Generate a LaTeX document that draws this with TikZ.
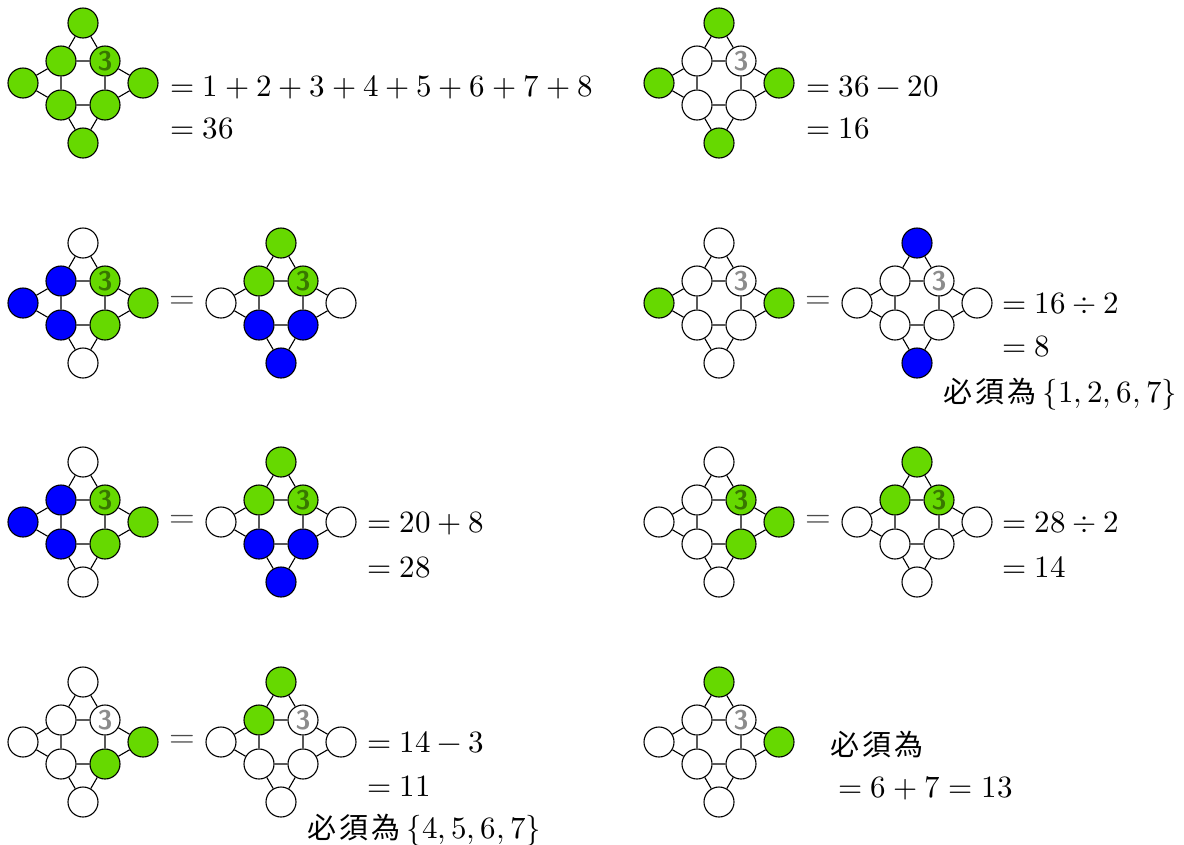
\documentclass[tikz,border=0pt]{standalone}
\usepackage{fontspec}
\usepackage{unicode-math}
\setmathfont{Latin Modern Math}
\newfontfamily\cjk{Noto Sans CJK TC}
\definecolor{vg}{RGB}{102,217,0}
\definecolor{vb}{RGB}{0,0,255}
\definecolor{vw}{RGB}{255,255,255}
\tikzset{
  v/.style={circle,draw=black,line width=1.1pt,minimum size=30pt,inner sep=0pt},
  three/.style={text=black,text opacity=0.45,font=\fontsize{27}{27}\selectfont\sffamily\bfseries},
  e/.style={line width=1.1pt,black},
  lbl/.style={font=\fontsize{31}{37}\selectfont,anchor=base west,inner sep=0pt},
  cjklbl/.style={font=\fontsize{29}{35}\selectfont\cjk,anchor=base west,inner sep=0pt},
  eqsign/.style={font=\fontsize{33}{37}\selectfont,text=black!70,inner sep=0pt},
}
\newcommand\bixu{必\kern3pt須\kern3pt為}
\newcommand\gdiag[9]{%
  \node[v,fill=#2] (#1t) at (0,-60) {};
  \node[v,fill=#3] (#1ul) at (-22,-22) {};
  \node[v,fill=#4,three] (#1ur) at (22,-22) {3};
  \node[v,fill=#5] (#1l) at (-60,0) {};
  \node[v,fill=#6] (#1r) at (60,0) {};
  \node[v,fill=#7] (#1ll) at (-22,22) {};
  \node[v,fill=#8] (#1lr) at (22,22) {};
  \node[v,fill=#9] (#1b) at (0,60) {};
  \draw[e] (#1t)--(#1ul) (#1t)--(#1ur) (#1ul)--(#1ur) (#1l)--(#1ul) (#1l)--(#1ll)
    (#1ul)--(#1ll) (#1ur)--(#1lr) (#1ur)--(#1r) (#1r)--(#1lr) (#1ll)--(#1lr)
    (#1ll)--(#1b) (#1lr)--(#1b);
}
\begin{document}
\begin{tikzpicture}[x=1pt,y=-1pt]
\useasboundingbox[fill=white] (0,0) rectangle (1184,844);
% row 1
\begin{scope}[shift={(83,83)}]\gdiag{a}{vg}{vg}{vg}{vg}{vg}{vg}{vg}{vg}\end{scope}
\begin{scope}[shift={(719,83)}]\gdiag{b}{vg}{vw}{vw}{vg}{vg}{vw}{vw}{vg}\end{scope}
\node[lbl] (ta1) at (170,96) {$=1+2+3+4+5+6+7+8$};
\node[lbl] (ta2) at (170,138) {$=36$};
\node[lbl] (tb1) at (806,96) {$=36-20$};
\node[lbl] (tb2) at (806,138) {$=16$};
% row 2
\begin{scope}[shift={(83,303)}]\gdiag{c}{vw}{vb}{vg}{vb}{vg}{vb}{vg}{vw}\end{scope}
\begin{scope}[shift={(281,303)}]\gdiag{d}{vg}{vg}{vg}{vw}{vw}{vb}{vb}{vb}\end{scope}
\begin{scope}[shift={(719,303)}]\gdiag{e}{vw}{vw}{vw}{vg}{vg}{vw}{vw}{vw}\end{scope}
\begin{scope}[shift={(917,303)}]\gdiag{f}{vb}{vw}{vw}{vw}{vw}{vw}{vw}{vb}\end{scope}
\node[eqsign] (eq1) at (182,302) {$=$};
\node[eqsign] (eq2) at (818,302) {$=$};
\node[lbl] (tf1) at (1002,313) {$=16\div 2$};
\node[lbl] (tf2) at (1002,356) {$=8$};
\node[cjklbl] (tf3) at (943,402) {\bixu\ \fontsize{31}{37}\selectfont$\{1,2,6,7\}$};
% row 3
\begin{scope}[shift={(83,522)}]\gdiag{g}{vw}{vb}{vg}{vb}{vg}{vb}{vg}{vw}\end{scope}
\begin{scope}[shift={(281,522)}]\gdiag{h}{vg}{vg}{vg}{vw}{vw}{vb}{vb}{vb}\end{scope}
\begin{scope}[shift={(719,522)}]\gdiag{i}{vw}{vw}{vg}{vw}{vg}{vw}{vg}{vw}\end{scope}
\begin{scope}[shift={(917,522)}]\gdiag{j}{vg}{vg}{vg}{vw}{vw}{vw}{vw}{vw}\end{scope}
\node[eqsign] (eq3) at (182,521) {$=$};
\node[eqsign] (eq4) at (818,521) {$=$};
\node[lbl] (th1) at (367,532) {$=20+8$};
\node[lbl] (th2) at (367,577) {$=28$};
\node[lbl] (tj1) at (1002,532) {$=28\div 2$};
\node[lbl] (tj2) at (1002,577) {$=14$};
% row 4
\begin{scope}[shift={(83,742)}]\gdiag{k}{vw}{vw}{vw}{vw}{vg}{vw}{vg}{vw}\end{scope}
\begin{scope}[shift={(281,742)}]\gdiag{l}{vg}{vg}{vw}{vw}{vw}{vw}{vw}{vw}\end{scope}
\begin{scope}[shift={(719,742)}]\gdiag{m}{vg}{vw}{vw}{vw}{vg}{vw}{vw}{vw}\end{scope}
\node[eqsign] (eq5) at (182,741) {$=$};
\node[lbl] (tl1) at (367,752) {$=14-3$};
\node[lbl] (tl2) at (367,796) {$=11$};
\node[cjklbl] (tl3) at (307,838) {\bixu\ \fontsize{31}{37}\selectfont$\{4,5,6,7\}$};
\node[cjklbl] (tm1) at (830,755) {\bixu};
\node[lbl] (tm2) at (838,797) {$=6+7=13$};
\end{tikzpicture}
\end{document}
